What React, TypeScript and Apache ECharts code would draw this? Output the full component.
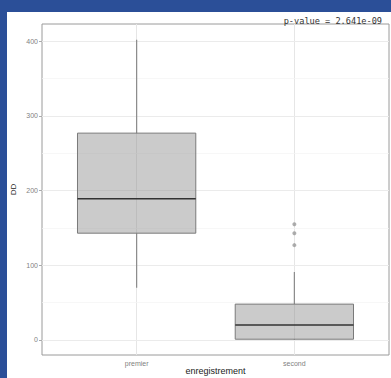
import React, { useEffect, useRef } from "react";
import * as echarts from "echarts";

const categories = ["premier", "second"];
// [min, Q1, median, Q3, max]
const boxStats = [
  [70, 143, 189, 277, 402],
  [0, 1, 20, 48, 91],
];
const outlierValues = [[], [155, 143, 127]];
const yMajor = [0, 100, 200, 300, 400];
const yMinor = [50, 150, 250, 350];
const pValueText = "p-value = 2.641e-09";

export default function App() {
  const ref = useRef<HTMLDivElement>(null);
  useEffect(() => {
    if (!ref.current) return;
    const chart = echarts.init(ref.current, null, { renderer: "svg" });
    const boxData = boxStats.map((s, i) => [i + 1, ...s]);
    const outlierData: number[][] = [];
    outlierValues.forEach((arr, i) => arr.forEach((v) => outlierData.push([i + 1, v])));
    const gridLines: any[] = [
      ...categories.map((_, i) => ({ xAxis: i + 1, lineStyle: { color: "#e6e6e6", width: 1, type: "solid" } })),
      ...yMajor.map((v) => ({ yAxis: v, lineStyle: { color: "#ebebeb", width: 1, type: "solid" } })),
      ...yMinor.map((v) => ({ yAxis: v, lineStyle: { color: "#f3f3f3", width: 0.7, type: "solid" } })),
    ];
    chart.setOption({
      animation: false,
      backgroundColor: "#ffffff",
      title: {
        text: pValueText,
        right: 4,
        top: -1,
        textStyle: { fontFamily: "DejaVu Sans Mono", fontSize: 8.6, fontWeight: "normal", color: "#333" },
      },
      grid: {
        left: 35,
        top: 12,
        right: 2,
        bottom: 23,
        outerBoundsMode: "none",
        containLabel: false,
        show: true,
        borderColor: "#9a9a9a",
        borderWidth: 1,
        backgroundColor: "#fff",
      },
      xAxis: {
        type: "value",
        min: 0.4,
        max: 2.6,
        name: "enregistrement",
        nameLocation: "middle",
        nameGap: 16,
        nameMoveOverlap: false,
        nameTextStyle: { fontFamily: "Liberation Sans", fontSize: 9, color: "#222", verticalAlign: "middle" },
        axisLine: { show: false },
        axisTick: { show: true, customValues: [1, 2], length: 3, lineStyle: { color: "#aaa" } },
        axisLabel: {
          customValues: [1, 2],
          formatter: (v: number) => categories[Math.round(v) - 1] ?? "",
          fontFamily: "Liberation Sans",
          fontSize: 7,
          color: "#7f7f7f",
          margin: 5,
        },
        splitLine: { show: false },
      },
      yAxis: {
        type: "value",
        min: -20.15,
        max: 423.15,
        name: "DD",
        nameLocation: "middle",
        nameGap: 25,
        nameMoveOverlap: false,
        nameTextStyle: { fontFamily: "Liberation Sans", fontSize: 8, color: "#222" },
        axisLine: { show: false },
        axisTick: { show: true, customValues: yMajor, length: 3, lineStyle: { color: "#aaa" } },
        axisLabel: {
          customValues: yMajor,
          fontFamily: "Liberation Sans",
          fontSize: 7,
          color: "#7f7f7f",
          margin: 4,
        },
        splitLine: { show: false },
      },
      series: [
        {
          type: "scatter",
          data: outlierData,
          symbolSize: 4,
          itemStyle: { color: "#999" },
          z: 3,
          markLine: {
            silent: true,
            symbol: "none",
            label: { show: false },
            z: 1,
            data: gridLines,
          },
        },
        {
          type: "custom",
          data: boxData,
          z: 2,
          encode: { x: 0, y: [1, 2, 3, 4, 5] },
          renderItem: (params: any, api: any) => {
            const x = api.value(0);
            const mn = api.value(1);
            const q1 = api.value(2);
            const md = api.value(3);
            const q3 = api.value(4);
            const mx = api.value(5);
            const tl = api.coord([x - 0.375, q3]);
            const br = api.coord([x + 0.375, q1]);
            const c = (v: number) => api.coord([x, v]);
            const ml = api.coord([x - 0.375, md]);
            const mr = api.coord([x + 0.375, md]);
            const wStyle = { stroke: "#8a8a8a", lineWidth: 1.2 };
            return {
              type: "group",
              children: [
                { type: "line", shape: { x1: c(q3)[0], y1: c(q3)[1], x2: c(mx)[0], y2: c(mx)[1] }, style: wStyle },
                { type: "line", shape: { x1: c(q1)[0], y1: c(q1)[1], x2: c(mn)[0], y2: c(mn)[1] }, style: wStyle },
                {
                  type: "rect",
                  shape: { x: tl[0], y: tl[1], width: br[0] - tl[0], height: br[1] - tl[1] },
                  style: { fill: "rgba(140,140,140,0.45)", stroke: "#7a7a7a", lineWidth: 1 },
                },
                { type: "line", shape: { x1: ml[0], y1: ml[1], x2: mr[0], y2: mr[1] }, style: { stroke: "#333", lineWidth: 1.5 } },
              ],
            };
          },
        },
      ],
    });
    return () => chart.dispose();
  }, []);
  return (
    <div style={{ position: "fixed", left: 0, top: 0, width: 391, height: 378, background: "#2b4f98", overflow: "hidden" }}>
      <div ref={ref} style={{ position: "absolute", left: 7, top: 12, width: 384, height: 366 }} />
    </div>
  );
}
